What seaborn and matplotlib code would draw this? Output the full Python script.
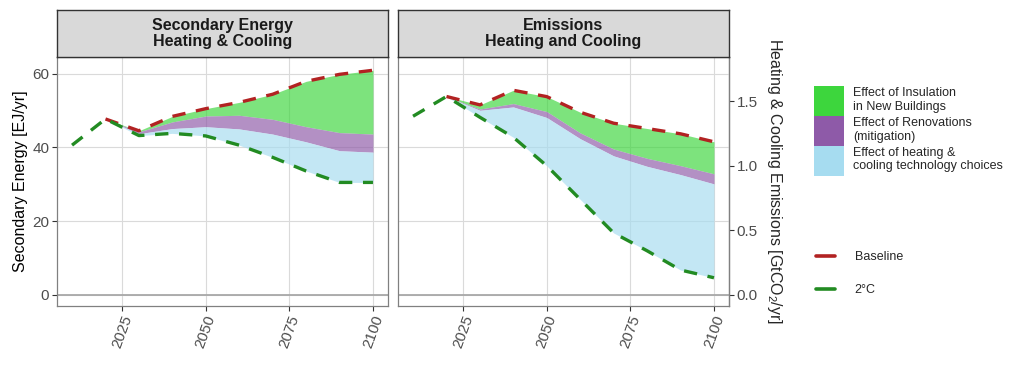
import numpy as np
import pandas as pd
import matplotlib
matplotlib.use("Agg")
import matplotlib.pyplot as plt
from matplotlib.patches import Patch
from matplotlib.lines import Line2D
import seaborn as sns

# data
years = [2010, 2020, 2030, 2040, 2050, 2060, 2070, 2080, 2090, 2100]

# secondary energy, heating & cooling [EJ/yr]
energy_2c = [40.6, 47.7, 43.2, 43.8, 43.1, 40.6, 37.3, 33.6, 30.5, 30.5]
energy_baseline = [np.nan, 47.7, 44.5, 48.4, 50.5, 52.2, 54.4, 57.9, 59.8, 60.9]
energy_reno_top = [np.nan, 47.7, 44.2, 46.9, 48.5, 48.7, 47.6, 45.6, 44.0, 43.6]
energy_tech_top = [np.nan, 47.7, 43.7, 45.1, 45.6, 45.0, 43.6, 41.5, 39.1, 38.7]

# emissions, heating & cooling [GtCO2/yr]
emis_2c = [1.384, 1.537, 1.376, 1.221, 1.000, 0.740, 0.480, 0.342, 0.193, 0.133]
emis_baseline = [np.nan, 1.537, 1.472, 1.585, 1.536, 1.415, 1.330, 1.289, 1.248, 1.186]
emis_reno_top = [np.nan, 1.537, 1.440, 1.482, 1.420, 1.255, 1.130, 1.058, 1.001, 0.938]
emis_tech_top = [np.nan, 1.537, 1.430, 1.456, 1.374, 1.210, 1.077, 0.996, 0.932, 0.860]

emis_scale = 35.0  # emissions share the energy axis through this factor

fill_labels = ["Effect of Insulation\nin New Buildings",
               "Effect of Renovations\n(mitigation)",
               "Effect of heating &\ncooling technology choices"]
fill_colors = ["#3DD63D", "#8E5AA8", "#A6DCF0"]
line_labels = ["Baseline", "2°C"]
line_colors = ["#B22222", "#228B22"]
strip_titles = ["Secondary Energy\nHeating & Cooling", "Emissions\nHeating and Cooling"]

sns.set_theme(style="white")
plt.rcParams["font.family"] = ["Liberation Sans", "DejaVu Sans"]
plt.rcParams["mathtext.fontset"] = "custom"
plt.rcParams["mathtext.rm"] = "Liberation Sans"

W, H = 1024, 384
fig = plt.figure(figsize=(W / 100, H / 100), dpi=100)


def fx(px):
    return px / W


def fy(py):
    return 1 - py / H


panel_top, panel_bot = 57, 306
ax1 = fig.add_axes([fx(57), fy(panel_bot), fx(331), (panel_bot - panel_top) / H])
ax2 = fig.add_axes([fx(398), fy(panel_bot), fx(331), (panel_bot - panel_top) / H], sharey=ax1)

tick_kw = dict(direction="out", length=3.5, width=0.8, color="#333333",
               labelcolor="#4D4D4D", labelsize=11, pad=2)


def draw_panel(ax, base, reno, tech, low):
    frame = pd.DataFrame({"year": years, "base": base, "reno": reno, "tech": tech, "low": low})
    rib = frame.dropna()
    ax.fill_between(rib["year"], rib["reno"], rib["base"], color=fill_colors[0], alpha=0.67, lw=0)
    ax.fill_between(rib["year"], rib["tech"], rib["reno"], color=fill_colors[1], alpha=0.67, lw=0)
    ax.fill_between(rib["year"], rib["low"], rib["tech"], color=fill_colors[2], alpha=0.67, lw=0)
    ax.axhline(0, color="#A8A8A8", lw=1.3, zorder=1)
    long = pd.concat([
        pd.DataFrame({"year": years, "value": base, "scenario": "Baseline"}),
        pd.DataFrame({"year": years, "value": low, "scenario": "2°C"}),
    ]).dropna()
    sns.lineplot(data=long, x="year", y="value", hue="scenario", style="scenario",
                 hue_order=line_labels, style_order=line_labels,
                 palette=dict(zip(line_labels, line_colors)),
                 dashes={"Baseline": (4, 3.2), "2°C": (4, 3.2)},
                 linewidth=2.4, legend=False, ax=ax, zorder=3)
    ax.set_xlim(2005.5, 2104.5)
    ax.set_ylim(-3.0, 64.5)
    ax.set_xticks([2025, 2050, 2075, 2100])
    ax.set_yticks([0, 20, 40, 60])
    ax.grid(True, color="#DADADA", lw=0.8)
    ax.set_axisbelow(True)
    for s in ax.spines.values():
        s.set_color("#808080")
        s.set_linewidth(0.9)
    ax.tick_params(axis="both", left=True, bottom=True, **tick_kw)
    for lab in ax.get_xticklabels():
        lab.set_rotation(70)
        lab.set_ha("center")
        lab.set_va("top")
    ax.set_xlabel("")
    ax.set_ylabel("")


draw_panel(ax1, energy_baseline, energy_reno_top, energy_tech_top, energy_2c)
draw_panel(ax2,
           [v * emis_scale for v in emis_baseline],
           [v * emis_scale for v in emis_reno_top],
           [v * emis_scale for v in emis_tech_top],
           [v * emis_scale for v in emis_2c])

ax1.set_ylabel("Secondary Energy [EJ/yr]", fontsize=11.5, color="black", labelpad=3)
ax2.tick_params(axis="y", left=False, labelleft=False)

sec = ax2.secondary_yaxis("right", functions=(lambda y: y / emis_scale, lambda v: v * emis_scale))
sec.set_yticks([0, 0.5, 1.0, 1.5])
sec.set_yticklabels(["0.0", "0.5", "1.0", "1.5"])
sec.tick_params(**tick_kw)
sec.spines["right"].set_color("#808080")
sec.spines["right"].set_linewidth(0.9)
sec.set_ylabel(r"Heating & Cooling Emissions [GtCO$\mathregular{_2}$/yr]",
               fontsize=11.5, rotation=270, va="bottom", labelpad=5)

# facet strips
for ax, title in zip([ax1, ax2], strip_titles):
    pos = ax.get_position()
    strip = fig.add_axes([pos.x0, fy(panel_top), pos.width, (panel_top - 10) / H])
    strip.set_facecolor("#D9D9D9")
    strip.set_xticks([])
    strip.set_yticks([])
    for s in strip.spines.values():
        s.set_color("#333333")
        s.set_linewidth(1.0)
    strip.text(0.5, 0.5, title, ha="center", va="center", fontsize=11.5,
               fontweight="bold", color="#1A1A1A", linespacing=1.1,
               transform=strip.transAxes)

fill_handles = [Patch(facecolor=c, edgecolor="none") for c in fill_colors]
leg1 = fig.legend(fill_handles, fill_labels, loc="upper left",
                  bbox_to_anchor=(fx(814), fy(86)), frameon=False, fontsize=9,
                  handlelength=2.4, handleheight=3.3, handletextpad=0.7,
                  labelspacing=0.0, borderpad=0, borderaxespad=0)
for t in leg1.get_texts():
    t.set_linespacing(1.15)

line_handles = [Line2D([0], [0], color=c, lw=2.6) for c in line_colors]
leg2 = fig.legend(line_handles, line_labels, loc="upper left",
                  bbox_to_anchor=(fx(816), fy(251)), frameon=False, fontsize=9,
                  handlelength=1.5, handletextpad=1.6, labelspacing=1.7,
                  borderpad=0, borderaxespad=0)

fig.savefig("out.png", dpi=100)
